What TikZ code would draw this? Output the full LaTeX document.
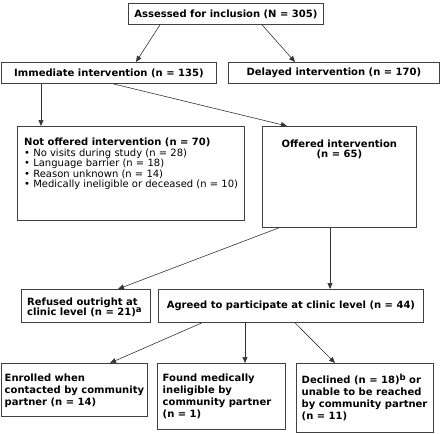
\documentclass[tikz,border=0pt]{standalone}
\usepackage{fontspec}
\setmainfont{DejaVu Sans}
\usetikzlibrary{arrows.meta,positioning}

\newcommand{\fnmark}[1]{\raisebox{3.5pt}{\fontsize{8.5}{8}\selectfont\bfseries #1}}

\begin{document}
\begin{tikzpicture}[x=1pt,y=-1pt,
  box/.style={draw=black!75,line width=.8pt,anchor=north west,inner sep=0pt,
    font=\fontsize{10}{10.5}\selectfont\bfseries},
  txt/.style={anchor=north west,inner sep=0pt,align=left,
    font=\fontsize{10}{10.5}\selectfont},
  low/.style={txt,font=\fontsize{10}{12}\selectfont\bfseries},
  arr/.style={draw=black!80,line width=.6pt,-{Triangle[length=6pt,width=5pt]}}]
  \useasboundingbox (0,0) rectangle (441,433);
  % boxes, placed by their north west corners
  \node[box,minimum width=195pt,minimum height=21pt] (assess) at (128,3) {Assessed for inclusion (N = 305)};
  \node[box,minimum width=215pt,minimum height=21pt] (immed) at (1,62) {Immediate intervention (n = 135)};
  \node[box,minimum width=211pt,minimum height=21pt] (delay) at (228,62) {Delayed intervention (n = 170)};
  \node[box,minimum width=227pt,minimum height=94pt] (notoff) at (17,126) {};
  \node[box,minimum width=154pt,minimum height=101pt] (offer) at (262,126) {};
  \node[box,minimum width=129pt,minimum height=33pt] (refuse) at (21,289) {};
  \node[box,minimum width=265pt,minimum height=33pt] (agree) at (158,289) {Agreed to participate at clinic level (n = 44)};
  \node[box,minimum width=146.5pt,minimum height=53pt] (enrol) at (0.5,363) {};
  \node[box,minimum width=128pt,minimum height=66pt] (found) at (157,363) {};
  \node[box,minimum width=137pt,minimum height=69pt] (declin) at (296,363) {};
  % texts inside the boxes
  \node[txt,below right=12pt and 7pt of notoff.north west] (notoff-t)
    {{\bfseries Not offered intervention (n = 70)}\\
     • No visits during study (n = 28)\\
     • Language barrier (n = 18)\\
     • Reason unknown (n = 14)\\
     • Medically ineligible or deceased (n = 10)};
  \node[txt,align=center,font=\fontsize{10}{10.5}\selectfont\bfseries,
    anchor=north,below=13.5pt of offer.north] (offer-t) {Offered intervention\\(n = 65)};
  \node[txt,font=\fontsize{10}{10.5}\selectfont\bfseries,
    below right=8.5pt and 6pt of refuse.north west] (refuse-t)
    {Refused outright at\\clinic level (n = 21)\fnmark{a}};
  \node[low,below right=10.5pt and 4pt of enrol.north west] (enrol-t)
    {Enrolled when\\contacted by community\\partner (n = 14)};
  \node[low,below right=10.5pt and 5.5pt of found.north west] (found-t)
    {Found medically\\ineligible by\\community partner\\(n = 1)};
  \node[low,below right=10.5pt and 5.5pt of declin.north west] (declin-t)
    {Declined (n = 18)\fnmark{b} or\\unable to be reached\\by community partner\\(n = 11)};
  % connectors
  \draw[arr] ([xshift=32pt]assess.south west) -- ([xshift=135pt]immed.north west);
  \draw[arr] ([xshift=134pt]assess.south west) -- ([xshift=67pt]delay.north west);
  \draw[arr] ([xshift=40pt]immed.south west) -- ([xshift=24pt]notoff.north west);
  \draw[arr] ([xshift=112pt]immed.south west) -- ([xshift=25pt]offer.north west);
  \draw[arr] ([xshift=17pt]offer.south west) -- ([xshift=97pt]refuse.north west);
  \draw[arr] ([xshift=68pt]offer.south west) -- ([xshift=172pt]agree.north west);
  \draw[arr] ([xshift=44pt]agree.south west) -- ([xshift=109.5pt]enrol.north west);
  \draw[arr] ([xshift=87pt]agree.south west) -- ([xshift=88pt]found.north west);
  \draw[arr] ([xshift=137pt]agree.south west) -- ([xshift=39pt]declin.north west);
\end{tikzpicture}
\end{document}
